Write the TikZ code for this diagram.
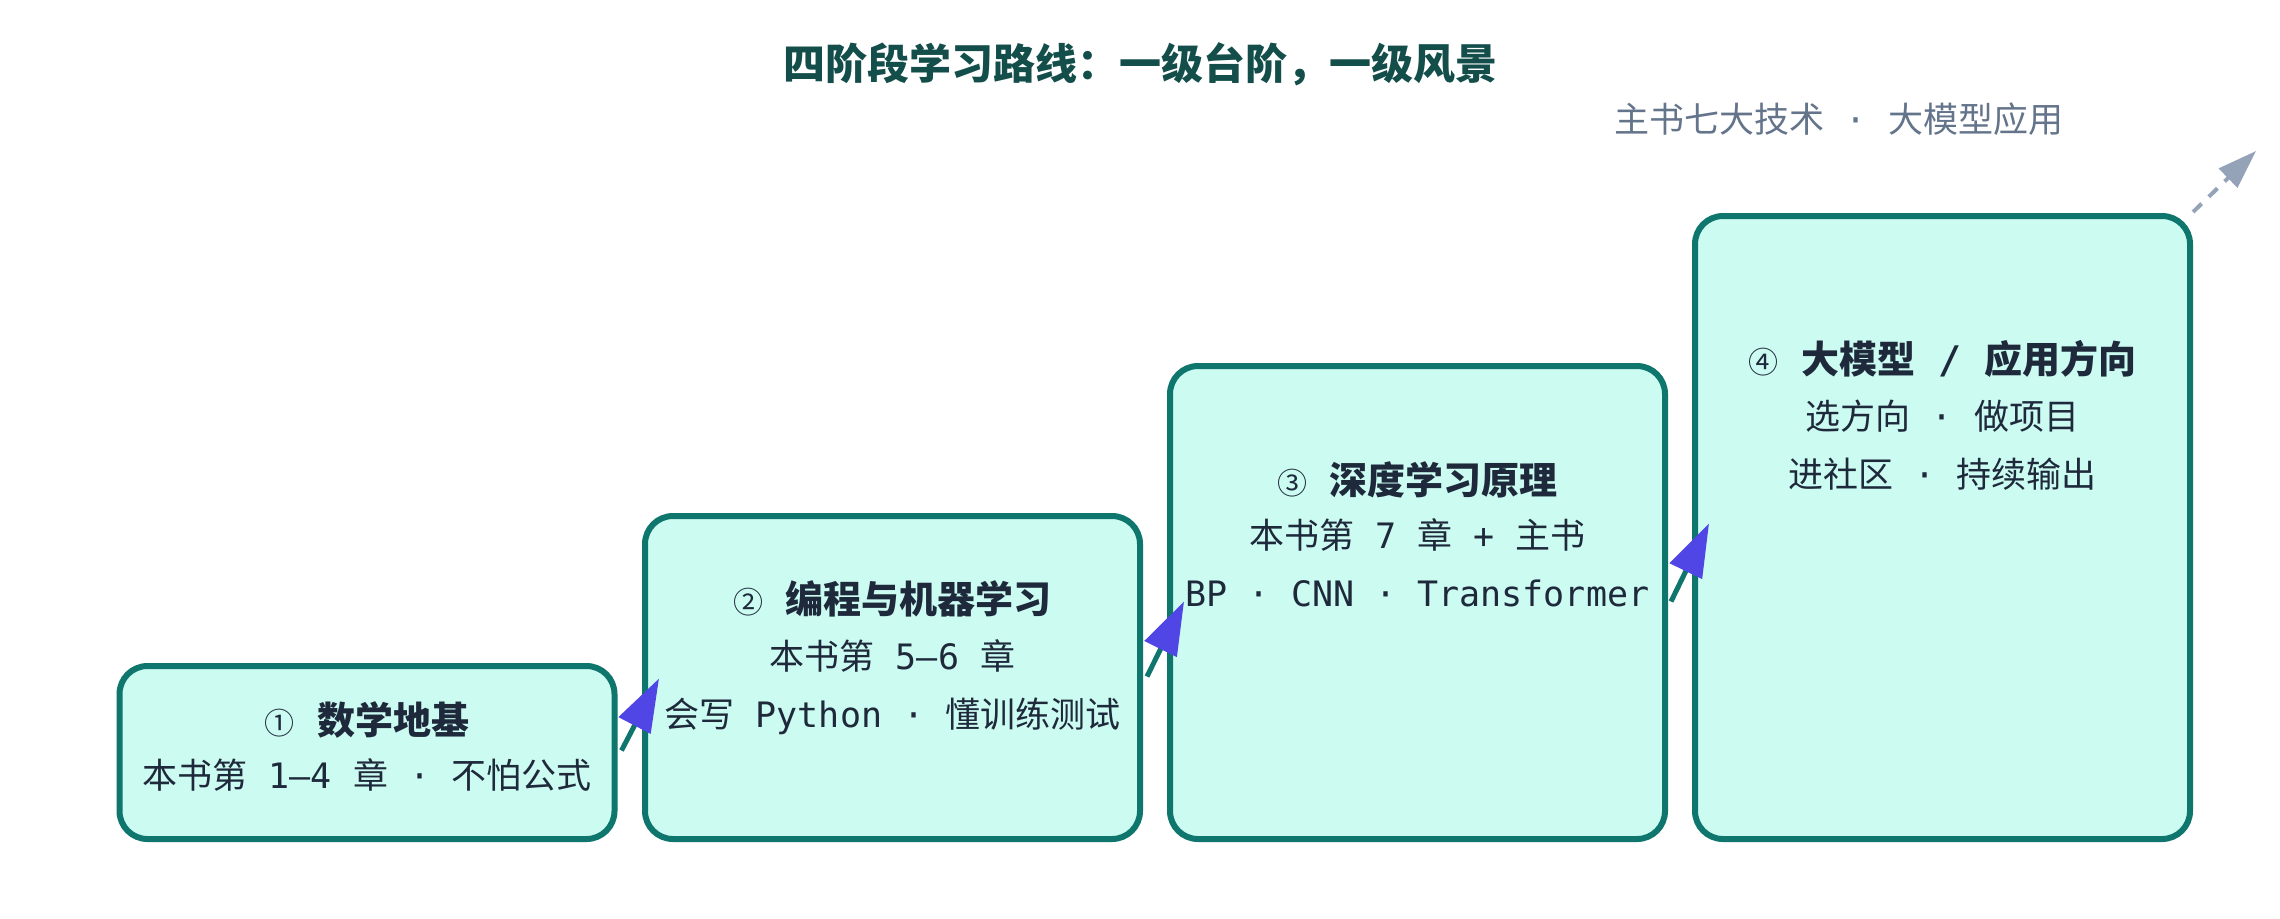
\documentclass[tikz,border=0pt]{standalone}
\usepackage{fontspec}
\setmainfont{DejaVu Sans Mono}
\newfontfamily\cjk{Noto Sans CJK SC}
\usetikzlibrary{arrows.meta}
\definecolor{boxfill}{HTML}{CCFBF1}
\definecolor{boxline}{HTML}{0F766E}
\definecolor{txt}{HTML}{1E293B}
\definecolor{headc}{HTML}{134E4A}
\definecolor{tipc}{HTML}{4F46E5}
\definecolor{notec}{HTML}{64748B}
\definecolor{dashc}{HTML}{94A3B8}
\newcommand{\circnum}[1]{{\cjk\mdseries\fontsize{15}{18}\selectfont #1}}
\begin{document}
\begin{tikzpicture}[x=0.5pt,y=-0.5pt,
  stage/.style={draw=boxline, fill=boxfill, line width=3pt, rounded corners=14pt,
    minimum width=247.5pt, inner sep=0pt, outer sep=0pt},
  body/.style={text=txt, font=\fontsize{17.5}{20}\selectfont, inner sep=0pt,
    text height=13.3pt, text depth=0pt},
  ttl/.style={text=txt, font=\fontsize{19}{22}\selectfont\bfseries, inner sep=0pt,
    text height=14.4pt, text depth=0pt},
  conn/.style={draw=boxline, line width=2.5pt,
    -{Triangle[length=26.5pt,width=17.5pt,color=tipc]}},
  guide/.style={draw=dashc, line width=2pt, dash pattern=on 6pt off 5pt,
    -{Triangle[length=19.5pt,width=13pt,color=dashc]}},
]
\fill[white] (0,0) rectangle (2280,918);
\useasboundingbox (0,0) rectangle (2280,918);

% title and note
\node[text=headc, font=\cjk\fontsize{21}{24}\selectfont\bfseries, inner sep=0pt,
  text height=16pt, text depth=0pt] (title) at (1140,63) {四阶段学习路线：一级台阶，一级风景};
\node[body, text=notec] (note) at (1839,119) {{\cjk 主书七大技术} · {\cjk 大模型应用}};

% stages
\node[stage, minimum height=86.5pt]  (b1) at (367,752.5) {};
\node[stage, minimum height=161.5pt] (b2) at (892.5,677.5) {};
\node[stage, minimum height=236.5pt] (b3) at (1417.5,602.5) {};
\node[stage, minimum height=311.5pt] (b4) at (1942.5,527.5) {};

% stage texts
\node[ttl]  (t1a) at (367,720) {\circnum{①} {\cjk 数学地基}};
\node[body] (t1b) at (367,775) {{\cjk 本书第} 1–4 {\cjk 章} · {\cjk 不怕公式}};

\node[ttl]  (t2a) at (892.5,599) {\circnum{②} {\cjk 编程与机器学习}};
\node[body] (t2b) at (892.5,656) {{\cjk 本书第} 5–6 {\cjk 章}};
\node[body] (t2c) at (892.5,714) {{\cjk 会写} Python · {\cjk 懂训练测试}};

\node[ttl]  (t3a) at (1417.5,480) {\circnum{③} {\cjk 深度学习原理}};
\node[body] (t3b) at (1417.5,535) {{\cjk 本书第} 7 {\cjk 章} + {\cjk 主书}};
\node[body] (t3c) at (1417.5,593) {BP · CNN · Transformer};

\node[ttl]  (t4a) at (1942.5,359) {\circnum{④} {\cjk 大模型} / {\cjk 应用方向}};
\node[body] (t4b) at (1942.5,416) {{\cjk 选方向} · {\cjk 做项目}};
\node[body] (t4c) at (1942.5,474) {{\cjk 进社区} · {\cjk 持续输出}};

% connectors
\draw[conn] ([xshift=3.5pt,yshift=1pt]b1.east) -- ([xshift=7pt,yshift=-0.5pt]b2.west);
\draw[conn] ([xshift=3.5pt,yshift=0.5pt]b2.east) -- ([xshift=7pt,yshift=0.5pt]b3.west);
\draw[conn] ([xshift=3pt,yshift=0.5pt]b3.east) -- ([xshift=7pt,yshift=2pt]b4.west);

\coordinate (beyond) at (2256,151);
\draw[guide] ([xshift=1.5pt,yshift=2pt]b4.north east) -- (beyond);
\end{tikzpicture}
\end{document}
